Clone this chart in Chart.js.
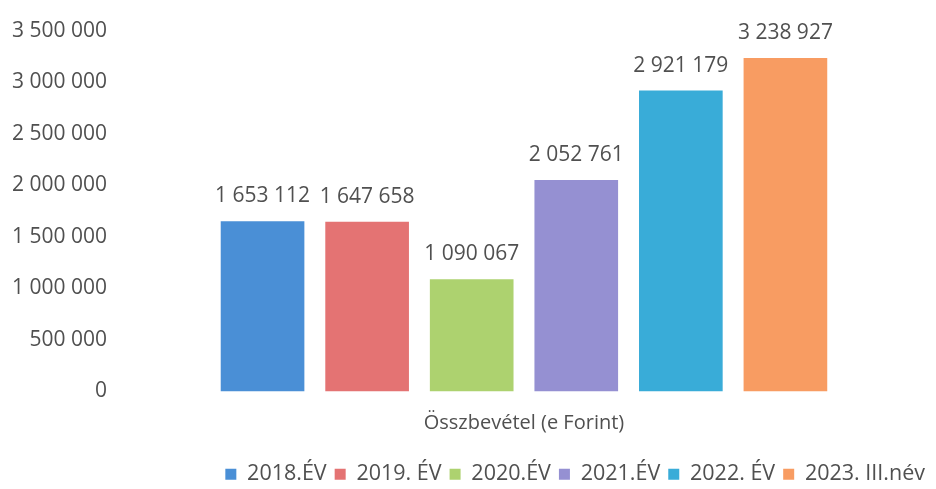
<!DOCTYPE html>
<html lang="hu">
<head>
  <meta charset="UTF-8" />
  <title>Összbevétel</title>
  <script src="https://cdn.jsdelivr.net/npm/chart.js"></script>
  <style>
    html, body { margin: 0; padding: 0; background: #fff; }
    #wrap { width: 936px; height: 489px; }
  </style>
</head>
<body>
  <div id="wrap"><canvas id="revChart"></canvas></div>

  <script>
    // data
    const categories = ['Összbevétel (e Forint)'];
    const seriesNames = ['2018.ÉV', '2019. ÉV', '2020.ÉV', '2021.ÉV', '2022. ÉV', '2023. III.név'];
    const seriesValues = [1653112, 1647658, 1090067, 2052761, 2921179, 3238927];
    const seriesColors = ['#4a8fd6', '#e47373', '#add26f', '#9590d2', '#39acd8', '#f89c62'];
    const yTicks = [0, 500000, 1000000, 1500000, 2000000, 2500000, 3000000, 3500000];

    const FONT = '"Open Sans", sans-serif';
    const TEXT = '#505050';

    // "1653112" -> "1 653 112"
    function fmt(v) {
      return String(Math.round(v)).replace(/\B(?=(\d{3})+(?!\d))/g, ' ');
    }

    // value labels above each bar
    const valueLabels = {
      id: 'valueLabels',
      afterDatasetsDraw(chart) {
        const ctx = chart.ctx;
        ctx.save();
        ctx.font = '21px ' + FONT;
        ctx.fillStyle = TEXT;
        ctx.textAlign = 'center';
        ctx.textBaseline = 'middle';
        chart.data.datasets.forEach((ds, i) => {
          chart.getDatasetMeta(i).data.forEach((bar, j) => {
            ctx.fillText(fmt(ds.data[j]), bar.x, bar.y - 25);
          });
        });
        ctx.restore();
      }
    };

    const datasets = seriesNames.map((name, i) => ({
      label: name,
      data: [seriesValues[i]],
      backgroundColor: seriesColors[i],
      barPercentage: 0.8,
      categoryPercentage: 0.767
    }));

    new Chart(document.getElementById('revChart'), {
      type: 'bar',
      data: { labels: categories, datasets: datasets },
      plugins: [valueLabels],
      options: {
        responsive: true,
        maintainAspectRatio: false,
        animation: false,
        layout: { padding: { top: 31, left: 4, right: 3, bottom: -6 } },
        plugins: {
          tooltip: { enabled: false },
          legend: {
            position: 'bottom',
            align: 'end',
            labels: {
              font: { family: FONT, size: 21.5 },
              color: TEXT,
              boxWidth: 11,
              boxHeight: 11,
              padding: 8
            }
          }
        },
        scales: {
          x: {
            grid: { display: false, drawTicks: false },
            border: { display: false },
            ticks: { font: { family: FONT, size: 20, lineHeight: 1 }, color: TEXT, padding: 22 }
          },
          y: {
            min: 0,
            max: 3500000,
            grid: { display: false, drawTicks: false },
            border: { display: false },
            afterBuildTicks(axis) {
              axis.ticks = yTicks.map(v => ({ value: v }));
            },
            ticks: {
              font: { family: FONT, size: 21 },
              color: TEXT,
              padding: 8,
              callback: v => fmt(v)
            }
          }
        }
      }
    });
  </script>
</body>
</html>
